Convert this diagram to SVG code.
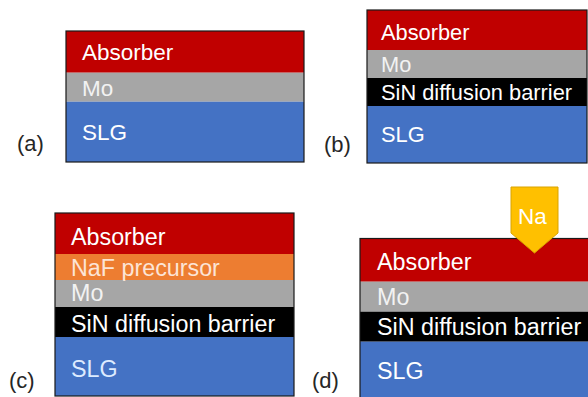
<svg xmlns="http://www.w3.org/2000/svg" width="588" height="397" viewBox="0 0 588 397">
<style>
  .t { font-family: "Liberation Sans", Arial, sans-serif; font-size: 22.5px; fill: #FFFFFF; }
  .lab { font-family: "Liberation Sans", Arial, sans-serif; font-size: 22px; fill: #262626; }
  .abs { fill: #C00000; }
  .mo { fill: #A6A6A6; }
  .slg { fill: #4472C4; }
  .sin { fill: #000000; }
  .naf { fill: #ED7D31; }
  .frame { fill: none; stroke: #1a1a1a; stroke-width: 1.2; }
  .mot { fill: #F2F2F2; }
</style>
<rect width="588" height="397" fill="#FFFFFF"/>

<g id="panel-a">
  <rect class="abs" x="66" y="31" width="238" height="41.7"/>
  <rect class="mo" x="66" y="72.7" width="238" height="29"/>
  <rect class="slg" x="66" y="101.7" width="238" height="60.3"/>
  <rect class="frame" x="66" y="31" width="238" height="131"/>
  <text class="t" x="82" y="60">Absorber</text>
  <text class="t mot" x="82" y="96">Mo</text>
  <text class="t" x="82" y="139.5">SLG</text>
  <text class="lab" x="17" y="150.5">(a)</text>
</g>

<g id="panel-b">
  <rect class="abs" x="367" y="10" width="220" height="40"/>
  <rect class="mo" x="367" y="50" width="220" height="28"/>
  <rect class="sin" x="367" y="78" width="220" height="28"/>
  <rect class="slg" x="367" y="106" width="220" height="57"/>
  <rect class="frame" x="367" y="10" width="220" height="153"/>
  <text class="t" x="381" y="39.5" style="font-size:21.8px">Absorber</text>
  <text class="t mot" x="381" y="71.5" style="font-size:21.8px">Mo</text>
  <text class="t" x="381" y="100" style="font-size:21.8px">SiN diffusion barrier</text>
  <text class="t" x="381" y="141.5" style="font-size:21.8px">SLG</text>
  <text class="lab" x="324" y="152">(b)</text>
</g>

<g id="panel-c">
  <rect class="abs" x="55" y="213" width="239" height="41"/>
  <rect class="naf" x="55" y="254" width="239" height="26"/>
  <rect class="mo" x="55" y="280" width="239" height="27"/>
  <rect class="sin" x="55" y="307" width="239" height="30"/>
  <rect class="slg" x="55" y="337" width="239" height="59"/>
  <rect class="frame" x="55" y="213" width="239" height="183"/>
  <text class="t" x="71" y="244.5" style="font-size:23.3px">Absorber</text>
  <text class="t" x="71" y="276" style="font-size:23.3px;fill:#FCE4D6">NaF precursor</text>
  <text class="t mot" x="71" y="301" style="font-size:23.3px">Mo</text>
  <text class="t" x="71" y="332" style="font-size:23.3px">SiN diffusion barrier</text>
  <text class="t" x="71" y="377" style="font-size:23.3px;fill:#DDEBFF">SLG</text>
  <text class="lab" x="9" y="388">(c)</text>
</g>

<g id="panel-d">
  <rect class="abs" x="360" y="238.5" width="230" height="43.2"/>
  <rect class="mo" x="360" y="281.7" width="230" height="30"/>
  <rect class="sin" x="360" y="311.7" width="230" height="30"/>
  <rect class="slg" x="360" y="341.7" width="230" height="60"/>
  <rect class="frame" x="360" y="238.5" width="240" height="170"/>
  <text class="t" x="377" y="270" style="font-size:23.3px">Absorber</text>
  <text class="t mot" x="377" y="305" style="font-size:23.3px">Mo</text>
  <text class="t" x="377" y="335" style="font-size:23.3px">SiN diffusion barrier</text>
  <text class="t" x="377" y="379" style="font-size:23.3px">SLG</text>
  <text class="lab" x="312" y="388">(d)</text>
</g>

<g id="na">
  <polygon points="511,187 558,187 558,233 534.5,253 511,233" fill="#FFC000" stroke="#D9A300" stroke-width="1"/>
  <text class="t" x="518" y="224" style="font-size:22.5px">Na</text>
</g>

<g id="connectors"></g>
</svg>
